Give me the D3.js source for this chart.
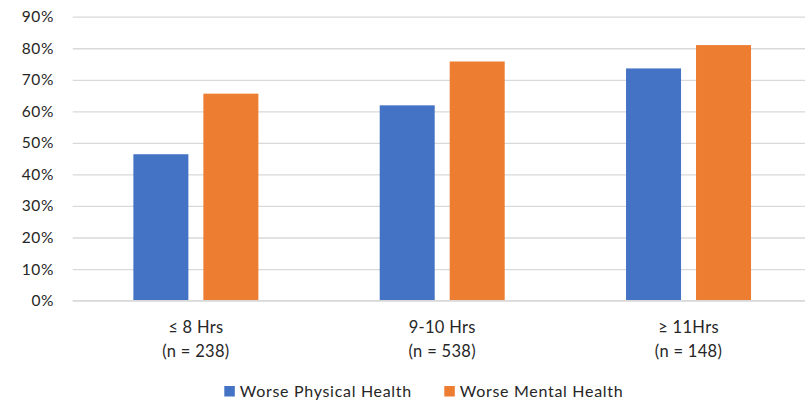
<!DOCTYPE html>
<html>
<head>
<meta charset="utf-8">
<script src="https://cdn.jsdelivr.net/npm/d3@7"></script>
<style>
  html, body { margin: 0; padding: 0; background: #fff; }
  svg { display: block; font-family: Lato, "Open Sans", sans-serif; }
</style>
</head>
<body>
<svg id="chart" width="805" height="402"></svg>
<script>
// Share of respondents reporting worse health, by daily hours
const groupLines = [["\u2264 8 Hrs", "(n = 238)"], ["9-10 Hrs", "(n = 538)"], ["\u2265 11Hrs", "(n = 148)"]];
const categories = ["le8", "9to10", "ge11"];
const seriesNames = ["Worse Physical Health", "Worse Mental Health"];
const physical = [0.464, 0.619, 0.736];
const mental = [0.656, 0.758, 0.810];
const yTicks = [0, 0.1, 0.2, 0.3, 0.4, 0.5, 0.6, 0.7, 0.8, 0.9];
const colors = ["#4472C4", "#ED7D31"];

const svg = d3.select("#chart");
const plotLeft = 72.7, plotRight = 811.7, plotTop = 16.7, plotBottom = 300.6;

const x0 = d3.scaleBand().domain(categories).range([plotLeft, plotRight]).padding(0);
const bw = x0.bandwidth();
const x1 = d3.scaleBand().domain(seriesNames)
  .range([bw / 2 - bw * 0.2537, bw / 2 + bw * 0.2537])
  .paddingInner(0.214).paddingOuter(0);
const y = d3.scaleLinear().domain([0, 0.9]).range([plotBottom, plotTop]);

// gridlines
const grid = svg.append("g")
  .attr("transform", `translate(${plotLeft},0)`)
  .call(d3.axisLeft(y).tickValues(yTicks).tickSize(-(plotRight - plotLeft)).tickFormat(""));
grid.select(".domain").remove();
grid.selectAll(".tick line").attr("stroke", "#d9d9d9").attr("stroke-width", 1.3);

// y tick labels
const yAxis = svg.append("g")
  .attr("transform", `translate(54,0)`)
  .call(d3.axisLeft(y).tickValues(yTicks).tickSize(0).tickPadding(0).tickFormat(d3.format(".0%")));
yAxis.select(".domain").remove();
yAxis.selectAll("text")
  .attr("font-family", "Lato, sans-serif")
  .attr("font-size", 15.5)
  .attr("fill", "#262626")
  .attr("letter-spacing", 0.6);

// bars
const rows = categories.map((c, i) => ({ cat: c, values: [physical[i], mental[i]] }));
const groups = svg.append("g").selectAll("g").data(rows).join("g")
  .attr("transform", d => `translate(${x0(d.cat)},0)`);
groups.selectAll("rect")
  .data(d => d.values.map((v, j) => ({ key: seriesNames[j], v, j })))
  .join("rect")
  .attr("x", d => x1(d.key))
  .attr("width", x1.bandwidth())
  .attr("y", d => y(d.v))
  .attr("height", d => plotBottom - y(d.v))
  .attr("fill", d => colors[d.j]);

// baseline
svg.append("line").attr("x1", plotLeft).attr("x2", plotRight).attr("y1", plotBottom).attr("y2", plotBottom)
  .attr("stroke", "#d9d9d9").attr("stroke-width", 1.3);

// category labels
const xLab = svg.append("g").selectAll("text").data(categories).join("text")
  .attr("text-anchor", "middle")
  .attr("font-size", 16.5)
  .attr("fill", "#262626")
  .attr("letter-spacing", 0.3);
xLab.each(function (d, i) {
  const t = d3.select(this);
  const cx = x0(d) + bw / 2;
  groupLines[i].forEach((line, k) => {
    t.append("tspan").attr("x", cx).attr("y", 333 + k * 23.5).text(line);
  });
});

// legend
const legendX = [224.3, 444.3];
const legend = svg.append("g").selectAll("g").data(seriesNames).join("g")
  .attr("transform", (d, i) => `translate(${legendX[i]},386)`);
legend.append("rect").attr("width", 10.5).attr("height", 10.5)
  .attr("fill", (d, i) => colors[i]);
legend.append("text")
  .attr("x", 15.5).attr("y", 11)
  .attr("font-size", 16)
  .attr("fill", "#262626")
  .attr("letter-spacing", 0.7)
  .text(d => d);
</script>
</body>
</html>
